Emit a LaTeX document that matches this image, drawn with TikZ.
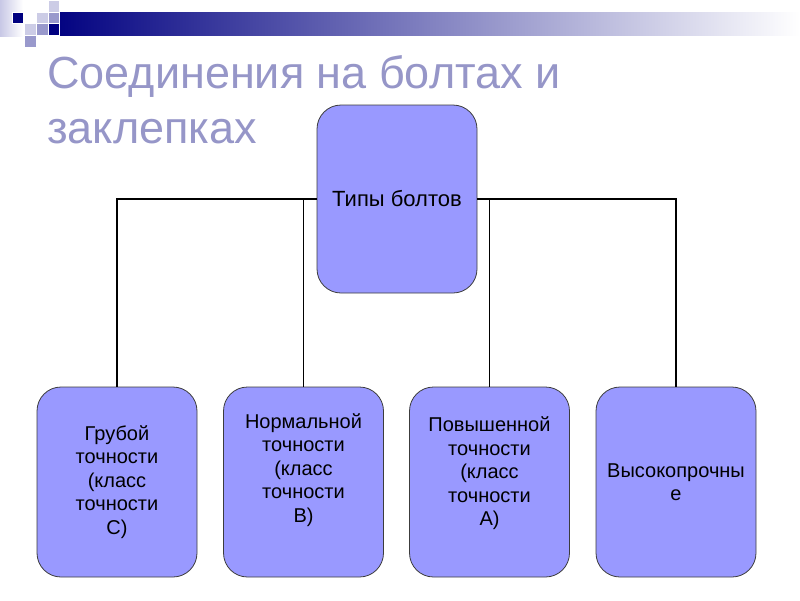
\documentclass[tikz,border=0pt]{standalone}
\usepackage{fontspec}
\setmainfont{Liberation Sans}
\definecolor{boxfill}{RGB}{153,153,255}
\definecolor{boxline}{RGB}{60,60,60}
\definecolor{titlecol}{RGB}{150,150,200}
\definecolor{navybar}{RGB}{0,0,128}
\definecolor{sqlight}{RGB}{204,204,230}
\definecolor{sqmid}{RGB}{153,153,204}
\definecolor{stripcol}{RGB}{200,200,230}
\tikzset{
  bbox/.style={draw=boxline, line width=0.8pt, fill=boxfill, rounded corners=24pt,
    minimum width=160pt, minimum height=190pt, align=center, inner sep=2pt,
    font=\fontsize{20}{23.5}\selectfont},
  conn/.style={draw=black, line width=1.5pt},
  sq/.style={draw=white, line width=0.4pt}
}
\begin{document}
\begin{tikzpicture}[x=1pt,y=-1pt]
\useasboundingbox (0,0) rectangle (800,600);
% header decoration
\shade[left color=stripcol, right color=white] (0,0) rectangle (23,36);
\shade[left color=navybar, right color=white] (48,12) rectangle (800,35);
\fill[navybar, sq] (12,12) rectangle (23.5,23.5);
\fill[sqlight, sq] (48,0) rectangle (59.5,12);
\fill[sqlight, sq] (36,12) rectangle (48,23.5);
\fill[sqmid, sq] (48,12) rectangle (59.5,23.5);
\fill[sqlight, sq] (24,23.5) rectangle (36,35);
\fill[sqmid, sq] (36,23.5) rectangle (48,35);
\fill[navybar, sq] (48,23.5) rectangle (59.5,35);
\fill[sqmid, sq] (24,35) rectangle (36,47);
% title
\node[anchor=base west, inner sep=0pt, text=titlecol, font=\fontsize{45}{55}\selectfont, align=left] (title) at (47,143)
  {Соединения на болтах и\\заклепках};
% boxes
\node[bbox, minimum height=188pt, font=\fontsize{22}{25}\selectfont] (top) at (397,199) {Типы болтов};
\node[bbox] (b1) at (117,482) {Грубой\\точности\\(класс\\точности\\С)};
\node[bbox, text depth=28pt] (b2) at (303.5,482) {Нормальной\\точности\\(класс\\точности\\В)};
\node[bbox, text depth=21pt] (b3) at (489.5,482) {Повышенной\\точности\\(класс\\точности\\А)};
\node[bbox] (b4) at (676,482) {Высокопрочны\\е};
% connectors
\draw[conn] (top.west) -| (b1.north);
\draw[conn] (top.west) -| (b2.north);
\draw[conn] (top.east) -| (b3.north);
\draw[conn] (top.east) -| (b4.north);
\end{tikzpicture}
\end{document}
